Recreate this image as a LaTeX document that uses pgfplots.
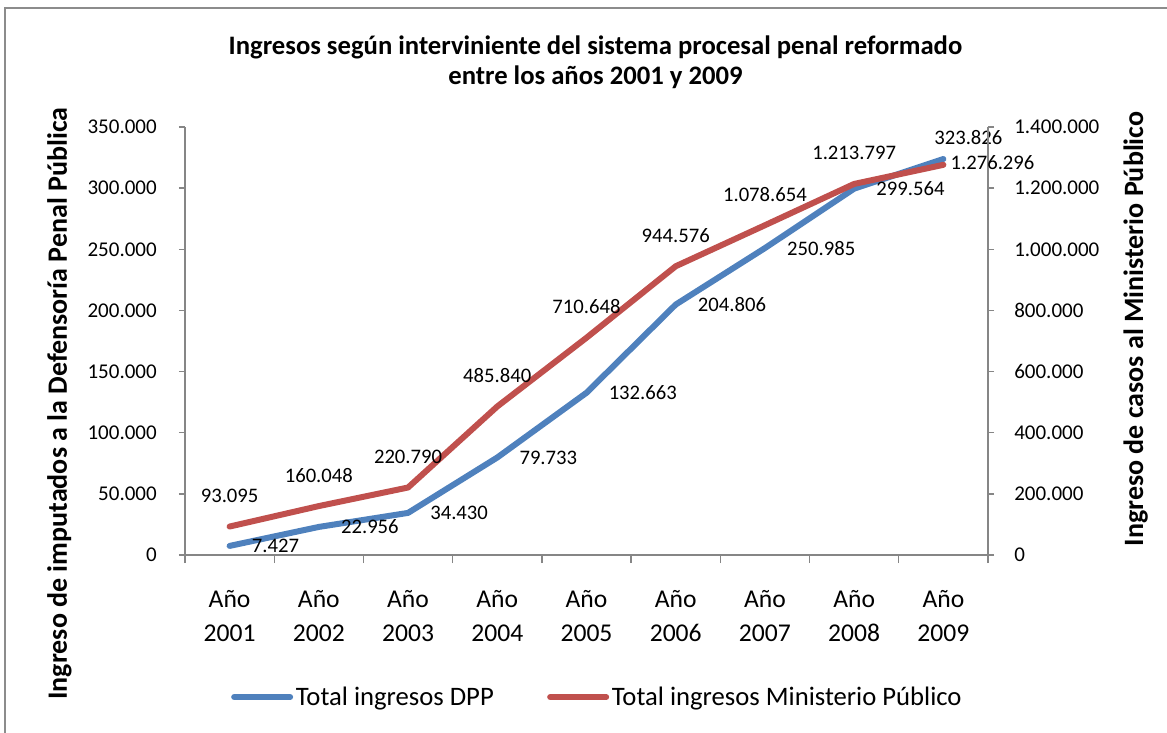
\documentclass[border=0pt]{standalone}
\usepackage{fontspec}
\setmainfont{Carlito}
\usepackage{pgfplots}
\pgfplotsset{compat=1.18}

\definecolor{dppblue}{HTML}{4F81BD}
\definecolor{mpred}{HTML}{C0504D}
\definecolor{axisgray}{HTML}{868686}
\definecolor{framegray}{HTML}{8C8C8C}

% 1 px of the reference = 0.75pt; plot box is 803 x 428 px
\pgfplotsset{
  twin/.style={
    width=602.25pt, height=321pt, scale only axis,
    xmin=0.5, xmax=9.5, ymin=0, clip=false,
    scaled y ticks=false,
    /pgf/number format/assume math mode=true,
    /pgf/number format/fixed,
    /pgf/number format/1000 sep={.},
    axis line style={axisgray, line width=1pt, -},
    tick style={axisgray, line width=1pt},
    tick align=outside,
    major tick length=4.5pt,
    minor tick length=6pt,
    yticklabel style={font=\fontsize{15.75}{18}\selectfont, inner sep=0pt},
  },
}
\tikzset{
  lineplot/.style={line width=4.5pt, line cap=round, line join=round},
  dlab/.style={font=\fontsize{15.5}{18}\selectfont, inner sep=0pt},
}

\begin{document}
\begin{tikzpicture}
% page frame and free text, in reference pixels
\begin{scope}[shift={(-138.75pt,416.25pt)}, x=0.75pt, y=-0.75pt]
  \path[use as bounding box] (0,0) rectangle (1167,732);
  \draw[framegray, line width=1.5pt] (5,740) -- (5,8) -- (1175,8);
  \node[font=\bfseries\fontsize{20}{24}\selectfont, anchor=base] at (595.5,55)
    {Ingresos según interviniente del sistema procesal penal reformado};
  \node[font=\bfseries\fontsize{20}{24}\selectfont, anchor=base] at (595.5,85)
    {entre los años 2001 y 2009};
  \node[font=\bfseries\fontsize{21}{25}\selectfont, rotate=90, anchor=base] at (67,403.5)
    {Ingreso de imputados a la Defensoría Penal Pública};
  \node[font=\bfseries\fontsize{21}{25}\selectfont, rotate=90, anchor=base] at (1143,329)
    {Ingreso de casos al Ministerio Público};
\end{scope}

% left axis: DPP
\begin{axis}[twin,
  ymax=350000,
  axis x line*=bottom, axis y line*=left,
  ytick={0,50000,100000,150000,200000,250000,300000,350000},
  yticklabel style={anchor=east, xshift=-16.5pt},
  xtick={1,2,3,4,5,6,7,8,9},
  xticklabels={{Año\\2001},{Año\\2002},{Año\\2003},{Año\\2004},{Año\\2005},
               {Año\\2006},{Año\\2007},{Año\\2008},{Año\\2009}},
  xticklabel style={anchor=north, align=center, inner sep=0pt, yshift=-21.5pt,
                    font=\fontsize{19.2}{25.5}\selectfont},
  minor xtick={0.5,1.5,2.5,3.5,4.5,5.5,6.5,7.5,8.5,9.5},
  major x tick style={draw=none},
]
\addplot[dppblue, lineplot] coordinates {
  (1,7427) (2,22956) (3,34430) (4,79733) (5,132663)
  (6,204806) (7,250985) (8,299564) (9,323826)};
\node[dlab, anchor=west, xshift=16.5pt] at (axis cs:1,7427) {7.427};
\node[dlab, anchor=west, xshift=16.5pt] at (axis cs:2,22956) {22.956};
\node[dlab, anchor=west, xshift=16.5pt] at (axis cs:3,34430) {34.430};
\node[dlab, anchor=west, xshift=16.5pt] at (axis cs:4,79733) {79.733};
\node[dlab, anchor=west, xshift=16.5pt] at (axis cs:5,132663) {132.663};
\node[dlab, anchor=west, xshift=16.5pt] at (axis cs:6,204806) {204.806};
\node[dlab, anchor=west, xshift=16.5pt] at (axis cs:7,250985) {250.985};
\node[dlab, anchor=west, xshift=16.5pt] at (axis cs:8,299564) {299.564};
\node[dlab, anchor=center, xshift=18.75pt, yshift=15.75pt] at (axis cs:9,323826) {323.826};
\end{axis}

% right axis: Ministerio Publico
\begin{axis}[twin,
  ymax=1400000,
  axis y line*=right, axis x line=none,
  ytick={0,200000,400000,600000,800000,1000000,1200000,1400000},
  yticklabel style={anchor=west, xshift=15pt},
  legend style={at={(0.514,-0.332)}, anchor=center, draw=none, fill=none,
    legend columns=2, font=\fontsize{20}{24}\selectfont,
    /tikz/every even column/.append style={column sep=38pt},
    cells={anchor=west, inner xsep=1pt}},
  legend image code/.code={\draw[#1] (0pt,0pt) -- (42pt,0pt);},
]
\addlegendimage{dppblue, lineplot}
\addlegendentry{Total ingresos DPP}
\addplot[mpred, lineplot] coordinates {
  (1,93095) (2,160048) (3,220790) (4,485840) (5,710648)
  (6,944576) (7,1078654) (8,1213797) (9,1276296)};
\addlegendentry{Total ingresos Ministerio Público}
\node[dlab, anchor=center, yshift=23.25pt] at (axis cs:1,93095) {93.095};
\node[dlab, anchor=center, yshift=23.25pt] at (axis cs:2,160048) {160.048};
\node[dlab, anchor=center, yshift=23.25pt] at (axis cs:3,220790) {220.790};
\node[dlab, anchor=center, yshift=23.25pt] at (axis cs:4,485840) {485.840};
\node[dlab, anchor=center, yshift=23.25pt] at (axis cs:5,710648) {710.648};
\node[dlab, anchor=center, yshift=23.25pt] at (axis cs:6,944576) {944.576};
\node[dlab, anchor=center, yshift=23.25pt] at (axis cs:7,1078654) {1.078.654};
\node[dlab, anchor=center, yshift=23.25pt] at (axis cs:8,1213797) {1.213.797};
\node[dlab, anchor=west, xshift=5.25pt, yshift=1.5pt] at (axis cs:9,1276296) {1.276.296};
\end{axis}
\end{tikzpicture}
\end{document}
